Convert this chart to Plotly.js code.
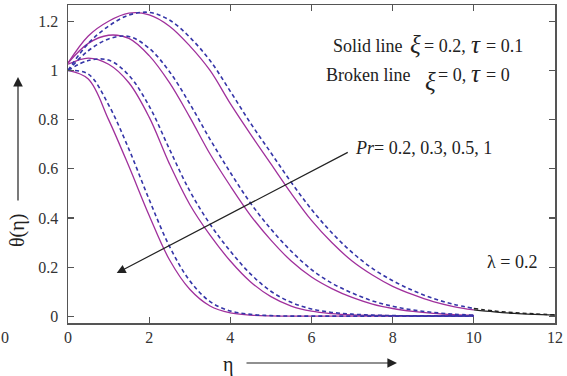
<!DOCTYPE html>
<html>
<head>
<meta charset="utf-8">
<script src="https://cdn.plot.ly/plotly-3.0.1.min.js"></script>
<style>
  html, body { margin: 0; padding: 0; background: #fff; }
  #chart { width: 567px; height: 376px; }
</style>
</head>
<body>
<div id="chart"></div>
<script>
// Temperature profiles theta(eta) for several Prandtl numbers, lambda = 0.2
const eta = [0, 0.5, 1, 1.5, 2, 2.5, 3, 3.5, 4, 4.5, 5, 5.5, 6, 6.5, 7, 7.5, 8, 8.5, 9, 9.5, 10];

// Solid lines: xi = 0.2, tau = 0.1
const thetaSolidPr02 = [1.03, 1.14, 1.20, 1.233, 1.226, 1.18, 1.10, 1.00, 0.865, 0.74, 0.62, 0.50, 0.39, 0.30, 0.225, 0.168, 0.122, 0.088, 0.06, 0.04, 0.026];
const thetaSolidPr03 = [1.03, 1.11, 1.143, 1.13, 1.06, 0.95, 0.81, 0.66, 0.53, 0.41, 0.31, 0.225, 0.16, 0.113, 0.077, 0.05, 0.032, 0.02, 0.012, 0.007, 0.004];
const thetaSolidPr05 = [1.025, 1.05, 1.025, 0.95, 0.81, 0.62, 0.455, 0.33, 0.225, 0.14, 0.08, 0.042, 0.021, 0.011, 0.006, 0.004, 0.003, 0.002, 0.002, 0.002, 0.002];
const thetaSolidPr1  = [1.0, 0.965, 0.80, 0.61, 0.41, 0.23, 0.11, 0.042, 0.014, 0.005, 0.002, 0.001, 0.001, 0.001, 0.001, 0.001, 0.001, 0.001, 0.001, 0.001, 0.001];

// Broken lines: xi = 0, tau = 0
const thetaBrokenPr02 = [1.0, 1.11, 1.18, 1.225, 1.236, 1.205, 1.135, 1.04, 0.915, 0.785, 0.665, 0.545, 0.435, 0.34, 0.26, 0.195, 0.145, 0.105, 0.073, 0.049, 0.032];
const thetaBrokenPr03 = [1.0, 1.08, 1.128, 1.138, 1.09, 0.995, 0.865, 0.72, 0.585, 0.46, 0.355, 0.265, 0.19, 0.135, 0.095, 0.063, 0.041, 0.026, 0.016, 0.009, 0.005];
const thetaBrokenPr05 = [1.0, 1.04, 1.042, 0.98, 0.855, 0.68, 0.51, 0.375, 0.265, 0.172, 0.102, 0.057, 0.03, 0.016, 0.009, 0.005, 0.003, 0.002, 0.002, 0.002, 0.002];
const thetaBrokenPr1  = [1.0, 0.985, 0.86, 0.68, 0.475, 0.285, 0.145, 0.06, 0.022, 0.008, 0.003, 0.001, 0.001, 0.001, 0.001, 0.001, 0.001, 0.001, 0.001, 0.001, 0.001];

// Far-field continuation of the Pr = 0.2 profiles
const etaTail = [10, 10.5, 11, 11.5, 12];
const thetaTailSolid  = [0.026, 0.018, 0.012, 0.008, 0.005];
const thetaTailBroken = [0.032, 0.022, 0.015, 0.010, 0.006];

const solidColor = '#a0309c';
const brokenColor = '#3535a8';
const serif = "'Liberation Serif', 'Times New Roman', serif";

const solidSets = [thetaSolidPr02, thetaSolidPr03, thetaSolidPr05, thetaSolidPr1];
const brokenSets = [thetaBrokenPr02, thetaBrokenPr03, thetaBrokenPr05, thetaBrokenPr1];

const traces = [];
solidSets.forEach(y => traces.push({
  x: eta, y: y, mode: 'lines', hoverinfo: 'skip',
  line: { color: solidColor, width: 1.3, shape: 'spline', smoothing: 1 }
}));
brokenSets.forEach(y => traces.push({
  x: eta, y: y, mode: 'lines', hoverinfo: 'skip',
  line: { color: brokenColor, width: 1.6, dash: '4px,3px', shape: 'spline', smoothing: 1 }
}));
traces.push({ x: etaTail, y: thetaTailSolid, mode: 'lines', hoverinfo: 'skip',
  line: { color: '#222', width: 1.3, shape: 'spline' } });
traces.push({ x: etaTail, y: thetaTailBroken, mode: 'lines', hoverinfo: 'skip',
  line: { color: '#222', width: 1.5, dash: '4px,3px', shape: 'spline' } });

// pixel -> paper helpers for the plot frame (left 68, right 555, top 5, bottom 323)
const L = 68, R = 555, T = 5, B = 323;
const px = v => (v - L) / (R - L);
const py = v => (B - v) / (B - T);

function label(text, x, y, size, opts) {
  return Object.assign({
    text: text, xref: 'paper', yref: 'paper', x: px(x), y: py(y),
    xanchor: 'left', yanchor: 'middle', showarrow: false,
    font: { family: serif, size: size, color: '#222' }
  }, opts || {});
}
const greekFont = { font: { family: serif, size: 25, color: '#222' } };

const annotations = [
  label('Solid line', 331, 46, 18),
  label('<i>ξ</i>', 408, 45, 25, greekFont),
  label('= 0.2,', 422, 46, 18),
  label('<i>τ</i>', 469, 45, 25, greekFont),
  label('= 0.1', 484, 46, 18),
  label('Broken line', 324, 75, 18),
  label('<i>ξ</i>', 423, 82, 25, greekFont),
  label('= 0,', 436, 75, 18),
  label('<i>τ</i>', 469, 74, 25, greekFont),
  label('= 0', 484, 75, 18),
  label('<i>Pr</i>= 0.2, 0.3, 0.5, 1', 353, 148, 18),
  label('λ = 0.2', 485, 262, 18),
  // axis titles
  label('η', 228, 364, 20, { xanchor: 'center' }),
  label('θ(η)', 17, 231, 20, { xanchor: 'center', textangle: -90 }),
  label('0', 5, 337, 16, { xanchor: 'center', font: { family: serif, size: 16, color: '#333' } }),
  // axis direction arrows
  { text: '', xref: 'paper', yref: 'paper', x: px(397), y: py(363), ax: -152, ay: 0,
    showarrow: true, arrowhead: 2, arrowsize: 1.6, arrowwidth: 1.2, arrowcolor: '#222' },
  { text: '', xref: 'paper', yref: 'paper', x: px(18), y: py(77), ax: 0, ay: 125,
    showarrow: true, arrowhead: 2, arrowsize: 1.6, arrowwidth: 1.2, arrowcolor: '#222' },
  // increasing Pr arrow
  { text: '', xref: 'x', yref: 'y', x: 1.2, y: 0.176, axref: 'x', ayref: 'y', ax: 6.93, ay: 0.67,
    showarrow: true, arrowhead: 2, arrowsize: 1.5, arrowwidth: 1.2, arrowcolor: '#222' }
];

const axisCommon = {
  ticks: 'inside', ticklen: 6, tickwidth: 1.2, tickcolor: '#555',
  showline: true, linecolor: '#555', linewidth: 1.5, mirror: 'ticks',
  showgrid: false, zeroline: false,
  tickfont: { family: serif, size: 16, color: '#333' }
};

const layout = {
  width: 567, height: 376,
  margin: { l: L, r: 567 - R, t: T, b: 376 - B },
  paper_bgcolor: '#fff', plot_bgcolor: '#fff',
  showlegend: false,
  xaxis: Object.assign({}, axisCommon, { range: [0, 12], tick0: 0, dtick: 2, ticklabelstandoff: -1 }),
  yaxis: Object.assign({}, axisCommon, { range: [-0.027, 1.266], tick0: 0, dtick: 0.2, ticklabelstandoff: 5 }),
  annotations: annotations
};

Plotly.newPlot('chart', traces, layout, { displayModeBar: false, staticPlot: true });
</script>
</body>
</html>
